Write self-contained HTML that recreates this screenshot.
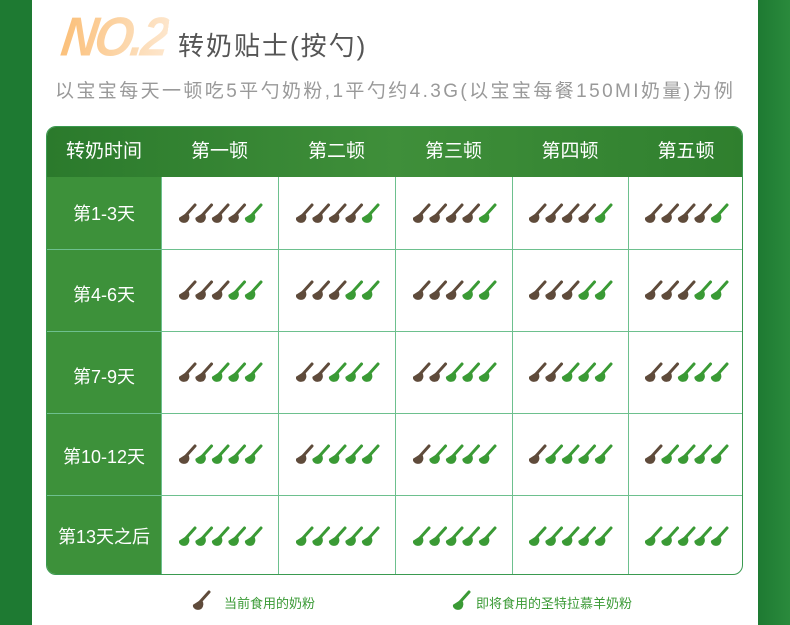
<!DOCTYPE html>
<html><head><meta charset="utf-8">
<style>
body{margin:0;width:790px;height:625px;overflow:hidden;background:#fff;font-family:"Liberation Sans","Noto Sans CJK SC",sans-serif;position:relative}
.lb{position:absolute;left:0;top:0;width:32px;height:625px;background:#1e7a32}
.rb{position:absolute;left:758px;top:0;width:32px;height:625px;background:linear-gradient(90deg,#1e7a32,#2a8a3c)}
.no{position:absolute;left:62px;top:8px;font:italic bold 50px "Liberation Sans",sans-serif;color:#fbc98a;letter-spacing:-3px;transform:skewX(-8deg) scaleY(1.1);background:linear-gradient(90deg,#fbc07a,#fde6cc);-webkit-background-clip:text;background-clip:text;-webkit-text-fill-color:transparent}
.t1{position:absolute;left:178px;top:26px;font-size:26px;color:#555;letter-spacing:2px}
.t2{position:absolute;left:55px;top:76px;font-size:19px;color:#999;white-space:nowrap;letter-spacing:2.4px}
.tbl{position:absolute;left:46px;top:126px;width:697px;height:449px;border:1px solid #3a9a50;border-radius:10px;overflow:hidden;box-sizing:border-box}
.hd{position:absolute;left:0;top:0;width:100%;height:50px;background:linear-gradient(90deg,#2b7a2c,#3f8f3a 50%,#2f7f2e)}
.lc{position:absolute;left:0;top:50px;width:114px;height:400px;background:#3d913a}
.h{position:absolute;top:0;height:50px;line-height:50px;color:#fff;font-size:19px;text-align:center}
.r{position:absolute;left:0;width:114px;color:#fff;font-size:18px;text-align:center}
.vl{position:absolute;top:50px;width:1px;height:400px;background:#6dc08e}
.hl{position:absolute;left:0;width:100%;height:1px;background:#6dc08e}
.cell{position:absolute}
.lg{position:absolute;top:593px;font-size:13px;color:#3a9a35}
</style></head><body>
<div class="lb"></div><div class="rb"></div>
<div class="no">NO.2</div>
<div class="t1">转奶贴士(按勺)</div>
<div class="t2">以宝宝每天一顿吃5平勺奶粉,1平勺约4.3G(以宝宝每餐150MI奶量)为例</div>
<svg width="0" height="0" style="position:absolute">
<defs>
<g id="s"><line x1="16" y1="1" x2="7" y2="11" stroke-width="3" stroke-linecap="round"/><path d="M0.5 14 L8.5 9 Q11.5 14 8 17.5 Q4 19.5 1.5 17 Q0 15.5 0.5 14Z"/></g>
</defs></svg>
<div class="tbl">
<div class="hd"></div><div class="lc"></div>
<div class="h" style="left:0;width:114px">转奶时间</div>
<div class="h" style="left:114px;width:117px">第一顿</div>
<div class="h" style="left:231px;width:117px">第二顿</div>
<div class="h" style="left:348px;width:117px">第三顿</div>
<div class="h" style="left:465px;width:116px">第四顿</div>
<div class="h" style="left:581px;width:116px">第五顿</div>
<div class="hl" style="top:122px"></div><div class="hl" style="top:204px"></div><div class="hl" style="top:286px"></div><div class="hl" style="top:368px"></div>
<div class="vl" style="left:114px"></div><div class="vl" style="left:231px"></div><div class="vl" style="left:348px"></div><div class="vl" style="left:465px"></div><div class="vl" style="left:581px"></div>
<div class="r" style="top:73px">第1-3天</div>
<div class="r" style="top:154px">第4-6天</div>
<div class="r" style="top:236px">第7-9天</div>
<div class="r" style="top:316px">第10-12天</div>
<div class="r" style="top:396px">第13天之后</div>
<div id="grid"></div>
</div>
<svg class="lg" style="left:192px;top:590px" width="20" height="22"><use href="#s" fill="#5f4b3b" stroke="#5f4b3b" transform="translate(1,1)"/></svg>
<div class="lg" style="left:224px">当前食用的奶粉</div>
<svg class="lg" style="left:452px;top:590px" width="20" height="22"><use href="#s" fill="#3a9a35" stroke="#3a9a35" transform="translate(1,1)"/></svg>
<div class="lg" style="left:476px">即将食用的圣特拉慕羊奶粉</div>
<script>
var cols=[114,231,348,465,581],ws=[117,117,117,116,116],tops=[50,122,204,286,368],hs=[72,82,82,82,81];
var g=document.getElementById('grid'),h='';
for(var r=0;r<5;r++)for(var c=0;c<5;c++){
var s='<svg class="cell" style="left:'+(cols[c]+(ws[c]-82)/2)+'px;top:'+(tops[r]+hs[r]/2-10)+'px" width="84" height="21">';
for(var k=0;k<5;k++){var col=k<4-r?'#5f4b3b':'#3a9a35';s+='<use href="#s" fill="'+col+'" stroke="'+col+'" transform="translate('+(k*16.5)+',1)"/>';}
h+=s+'</svg>';}
g.innerHTML=h;
</script>
</body></html>
